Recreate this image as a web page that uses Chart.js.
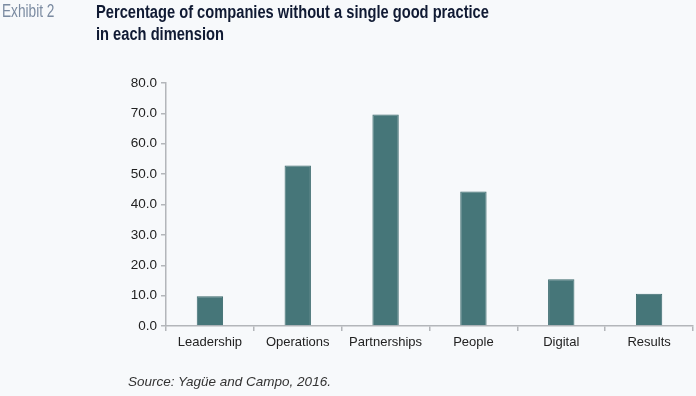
<!DOCTYPE html>
<html>
<head>
<meta charset="utf-8">
<script src="https://cdn.jsdelivr.net/npm/chart.js@4"></script>
<style>
  html, body { margin: 0; padding: 0; background: #f7f9fb; }
  #wrap { position: relative; width: 696px; height: 396px; overflow: hidden; }
  #chart { position: absolute; left: 0; top: 0; }
  .txt { position: absolute; white-space: nowrap; transform-origin: left top; font-family: "Liberation Sans", Arial, sans-serif; }
  #exhibit { left: 2px; top: 1px; font-size: 18px; color: #7b8ba1; transform: scaleX(0.76); }
  #title { left: 96px; top: 1px; font-size: 18px; font-weight: bold; color: #101a33; line-height: 22px; transform: scaleX(0.815); }
  #source { left: 128px; top: 374px; font-size: 13.5px; font-style: italic; color: #333; }
</style>
</head>
<body>
<div id="wrap">
  <canvas id="chart" width="696" height="396"></canvas>
  <div class="txt" id="exhibit">Exhibit 2</div>
  <div class="txt" id="title">Percentage of companies without a single good practice<br>in each dimension</div>
  <div class="txt" id="source">Source: Yagüe and Campo, 2016.</div>
</div>
<script>
const dimensions = ["Leadership", "Operations", "Partnerships", "People", "Digital", "Results"];
const noPracticePct = [9.8, 52.8, 69.6, 44.3, 15.4, 10.6];
const yTicks = [0, 10, 20, 30, 40, 50, 60, 70, 80];

const axisGray = "#b3b6ba";

new Chart(document.getElementById("chart"), {
  type: "bar",
  data: {
    labels: dimensions,
    datasets: [
      {
        data: noPracticePct,
        backgroundColor: "#467679",
        borderColor: "#3b6a6d",
        borderWidth: 1,
        categoryPercentage: 1,
        barPercentage: 0.3
      }
    ]
  },
  options: {
    responsive: false,
    animation: false,
    layout: {
      padding: { left: 106, top: 83, right: 3, bottom: 40 }
    },
    plugins: {
      legend: { display: false },
      tooltip: { enabled: false }
    },
    scales: {
      x: {
        afterFit: s => { s.height = 30; },
        border: { color: axisGray, width: 1.5 },
        grid: { drawOnChartArea: false, color: axisGray, tickLength: 5, lineWidth: 1.5 },
        ticks: {
          color: "#222",
          padding: 4,
          font: { family: "Liberation Sans", size: 13 }
        }
      },
      y: {
        min: 0,
        max: 80,
        afterFit: s => { s.width = 60; },
        afterBuildTicks: s => { s.ticks = yTicks.map(v => ({ value: v })); },
        border: { color: axisGray, width: 1.5 },
        grid: { drawOnChartArea: false, color: axisGray, tickLength: 5, lineWidth: 1.5 },
        ticks: {
          color: "#222",
          padding: 4,
          font: { family: "Liberation Sans", size: 13.5 },
          callback: v => Number(v).toFixed(1)
        }
      }
    }
  }
});
</script>
</body>
</html>
